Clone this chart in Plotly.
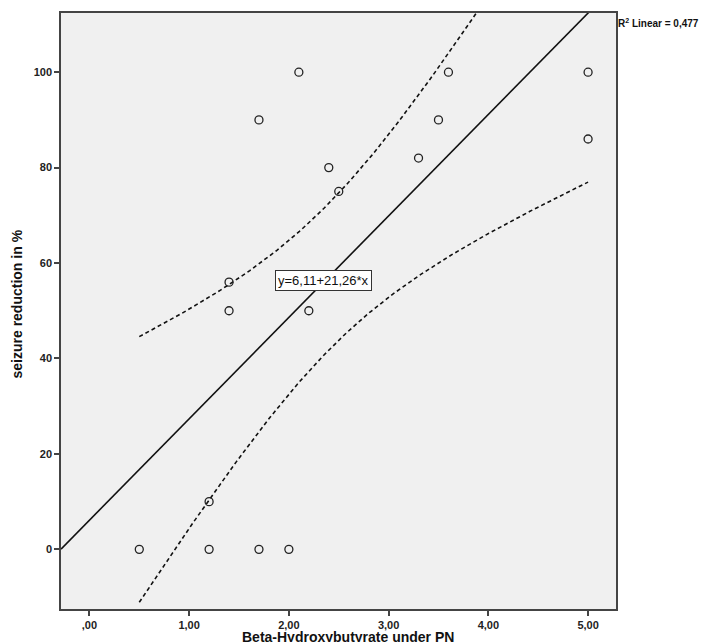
import numpy as np
import plotly.graph_objects as go

# Data
bhb = [0.5, 1.2, 1.2, 1.7, 2.0, 1.4, 1.4, 1.7, 2.1, 2.2, 2.4, 2.5, 3.3, 3.5, 3.6, 5.0, 5.0]
seizure_red = [0, 10, 0, 0, 0, 56, 50, 90, 100, 50, 80, 75, 82, 90, 100, 100, 86]

x_tickvals = [0, 1, 2, 3, 4, 5]
x_ticktext = [",00", "1,00", "2,00", "3,00", "4,00", "5,00"]
y_tickvals = [0, 20, 40, 60, 80, 100]

x_range = [-0.285, 5.28]
y_range = [-12.5, 112.4]

eq_text = "y=6,11+21,26*x"
r2_text = "R<sup>2</sup> Linear = 0,477"
t_crit = 2.131  # t(0.975, df=15)

x = np.array(bhb, dtype=float)
y = np.array(seizure_red, dtype=float)
n = len(x)
slope, intercept = np.polyfit(x, y, 1)
resid = y - (intercept + slope * x)
s = np.sqrt(np.sum(resid ** 2) / (n - 2))
sxx = np.sum((x - x.mean()) ** 2)

xc = np.linspace(x.min(), x.max(), 200)
yc = intercept + slope * xc
se = s * np.sqrt(1.0 / n + (xc - x.mean()) ** 2 / sxx)
upper = yc + t_crit * se
lower = yc - t_crit * se

xl = np.array(x_range)
yl = intercept + slope * xl

fig = go.Figure()
fig.add_trace(go.Scatter(x=xl, y=yl, mode="lines",
                         line=dict(color="#111111", width=1.6), hoverinfo="skip"))
fig.add_trace(go.Scatter(x=xc, y=upper, mode="lines",
                         line=dict(color="#111111", width=1.6, dash="4px,3px"), hoverinfo="skip"))
fig.add_trace(go.Scatter(x=xc, y=lower, mode="lines",
                         line=dict(color="#111111", width=1.6, dash="4px,3px"), hoverinfo="skip"))
fig.add_trace(go.Scatter(x=bhb, y=seizure_red, mode="markers",
                         marker=dict(symbol="circle-open", size=8, color="#222222",
                                     line=dict(width=1.3, color="#222222")),
                         cliponaxis=False))

fig.add_annotation(x=2.345, y=56.3, xref="x", yref="y", text=eq_text, showarrow=False,
                   font=dict(family="Liberation Sans, Arial", size=13, color="#111111"),
                   bgcolor="white", bordercolor="#333333", borderwidth=1, borderpad=2)

fig.add_annotation(x=1.0, y=0.984, xref="paper", yref="paper", text=r2_text,
                   showarrow=False, xanchor="left", yanchor="middle",
                   font=dict(family="Liberation Sans, Arial", size=10, color="#111111", weight="bold"))

fig.add_annotation(x=0.517, y=-0.0468, xref="paper", yref="paper",
                   text="Beta-Hydroxybutyrate under PN", showarrow=False,
                   xanchor="center", yanchor="middle",
                   font=dict(family="Liberation Sans, Arial", size=14, color="#111111", weight="bold"))

fig.add_annotation(x=-0.0799, y=0.512, xref="paper", yref="paper",
                   text="seizure reduction in %", showarrow=False, textangle=-90,
                   xanchor="center", yanchor="middle",
                   font=dict(family="Liberation Sans, Arial", size=14, color="#111111", weight="bold"))

axis_common = dict(showgrid=False, zeroline=False, showline=True, linecolor="#444444",
                   linewidth=1.5, mirror=True, ticks="outside", ticklen=5, tickwidth=1.5,
                   tickcolor="#444444",
                   tickfont=dict(family="Liberation Sans, Arial", size=11, color="#222222", weight="bold"))

fig.update_xaxes(range=x_range, tickvals=x_tickvals, ticktext=x_ticktext, **axis_common)
fig.update_yaxes(range=y_range, tickvals=y_tickvals, **axis_common)

fig.update_layout(width=709, height=642, showlegend=False,
                  margin=dict(l=53, r=101, t=3, b=41, pad=0),
                  plot_bgcolor="#f0f0f0", paper_bgcolor="white")

fig.write_html("out.html")
